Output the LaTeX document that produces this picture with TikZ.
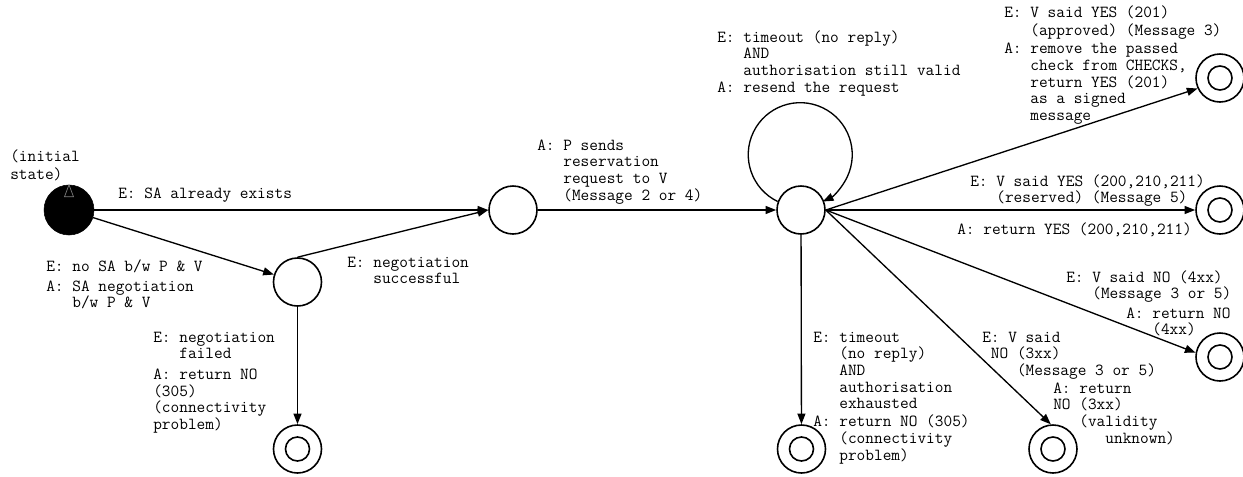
\documentclass[tikz,border=0pt]{standalone}
\usepackage{fontspec}
\usetikzlibrary{arrows.meta}
\newcommand\tb{\hphantom{xxx}}
\newcommand\lbl[1]{\begin{tabular}[t]{@{}l@{}}#1\end{tabular}}
\tikzset{
  statenode/.style={circle, draw, minimum size=36pt, inner sep=0pt, line width=1.2pt},
  finalnode/.style={statenode, path picture={\draw[line width=1.2pt] (path picture bounding box.center) circle[radius=9pt];}},
  initnode/.style={circle, fill=black, draw=black, minimum size=37.5pt, inner sep=0pt},
  arr/.style={line width=1pt, -{Triangle[length=8pt,width=6pt]}},
  txt/.style={anchor=base west, inner sep=0pt, font=\fontsize{12.65}{12.5}\selectfont\ttfamily}
}
\begin{document}
\begin{tikzpicture}[x=0.75pt, y=-0.75pt]
\useasboundingbox (0,0) rectangle (1243,476);
% states
\node[initnode] (init) at (69,210) {};
\draw[gray, line width=0.5pt] (init.north) -- ++(-4.5,12) -- ++(9,0) -- cycle;
\node[statenode] (A) at (297.5,282) {};
\node[statenode] (B) at (513,210) {};
\node[statenode] (C) at (801,210) {};
\node[finalnode] (F1) at (297.5,449) {};
\node[finalnode] (F2) at (801.5,449) {};
\node[finalnode] (F3) at (1053,449) {};
\node[finalnode] (F4) at (1220,357) {};
\node[finalnode] (F5) at (1220,210) {};
\node[finalnode] (F6) at (1220,78) {};
% connectors
\draw[arr] (init) -- (B);
\draw[arr] (init) -- (A);
\draw[arr] (A.north) -- (B.west);
\draw[arr] (A) -- (F1);
\draw[arr] (B) -- (C);
\draw[arr] (C.160) arc[start angle=244.3, end angle=-64.3, radius=39pt];
\draw[arr] (C.east) -- (F6.205);
\draw[arr] (C) -- (F5);
\draw[arr] (C.east) -- (F4.170);
\draw[arr] (C.east) -- (F3.95);
\draw[arr] (C) -- (F2);
% labels
\node[txt] (t0) at (10,161) {\lbl{(initial\\[1.5pt] state)}};
\node[txt] (t1) at (118,198) {\lbl{E: SA already exists}};
\node[txt] (t2) at (46,271) {\lbl{E: no SA b/w P \& V\\[2.5pt] A: SA negotiation\\ \tb b/w P \& V}};
\node[txt] (t3) at (347,267) {\lbl{E: negotiation\\ \tb successful}};
\node[txt] (t4) at (153,342) {\lbl{E: negotiation\\ \tb failed\\[3pt] A: return NO\\ (305)\\ (connectivity\\ problem)}};
\node[txt] (t5) at (537,150) {\lbl{A: P sends\\ \tb reservation\\ \tb request to V\\ \tb (Message 2 or 4)}};
\node[txt] (t6) at (717,42) {\lbl{E: timeout (no reply)\\ \tb AND\\ \tb authorisation still valid\\ A: resend the request}};
\node[txt] (t7) at (1004,17) {\lbl{E: V said YES (201)\\[1.5pt] \tb (approved) (Message 3)\\[1pt] A: remove the passed\\ \tb check from CHECKS,\\ \tb return YES (201)\\ \tb as a signed\\ \tb message}};
\node[txt] (t8) at (970,186) {\lbl{E: V said YES (200,210,211)\\ \tb (reserved) (Message 5)}};
\node[txt] (t9) at (957,234) {\lbl{A: return YES (200,210,211)}};
\node[txt] (t10) at (1066,282) {\lbl{E: V said NO (4xx)\\ \tb (Message 3 or 5)}};
\node[txt] (t11) at (1126,318) {\lbl{A: return NO\\ \tb (4xx)}};
\node[txt] (t12) at (982,342) {\lbl{E: V said\\ \hphantom{x}NO (3xx)\\ \hphantom{xxxx}(Message 3 or 5)}};
\node[txt] (t13) at (1053,393) {\lbl{A: return\\ NO (3xx)\\ \tb (validity\\ \hphantom{xxxxxx}unknown)}};
\node[txt] (t14) at (813,342) {\lbl{E: timeout\\ \tb (no reply)\\ \tb AND\\ \tb authorisation\\ \tb exhausted\\[1pt] A: return NO (305)\\ \tb (connectivity\\ \tb problem)}};
\end{tikzpicture}
\end{document}
